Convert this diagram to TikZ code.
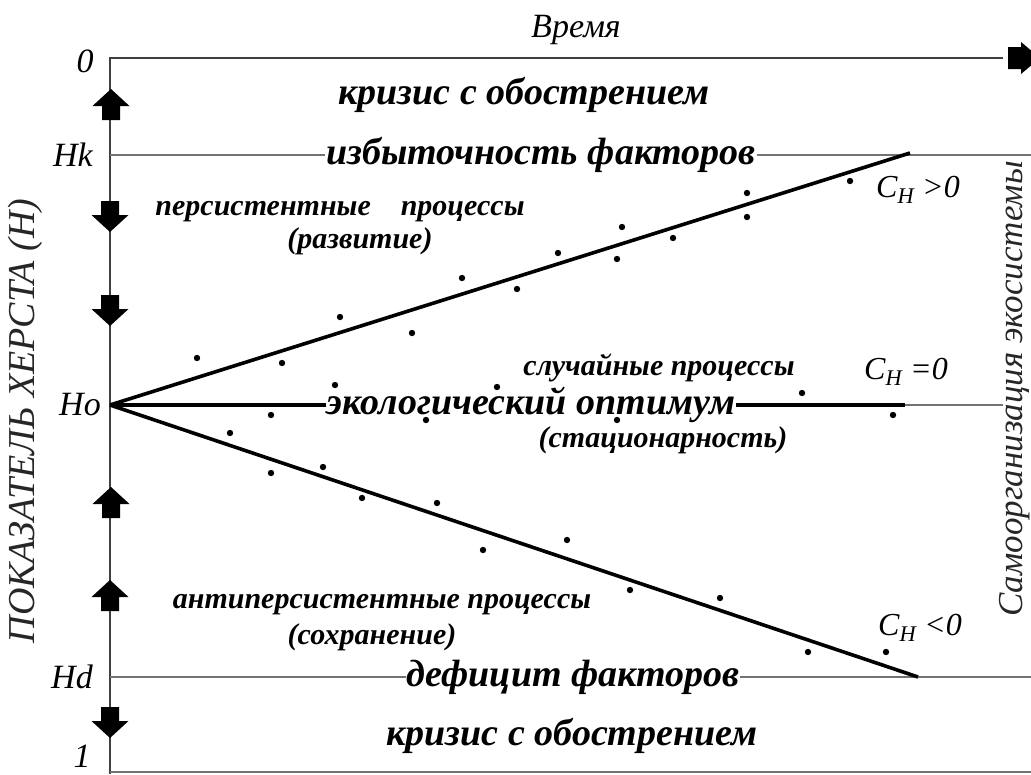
\documentclass[tikz,border=0pt]{standalone}
\usepackage{fontspec}
\setmainfont{Liberation Serif}
\usetikzlibrary{positioning}

\begin{document}
\begin{tikzpicture}[x=1pt, y=-1pt,
      axisline/.style={draw=black!75, line width=1.8pt},
      level/.style={draw=black!55, line width=1.6pt},
      trend/.style={draw=black, line width=3.6pt},
      zone/.style={font=\fontsize{38}{40}\selectfont\bfseries\itshape, fill=white, inner sep=1pt},
      proc/.style={font=\fontsize{30}{32}\selectfont\bfseries\itshape, inner sep=1pt},
      tick/.style={font=\fontsize{34}{36}\selectfont\itshape, inner sep=1pt},
      slope/.style={font=\fontsize{32}{34}\selectfont\itshape, inner sep=1pt},
      side/.style={font=\fontsize{38}{40}\selectfont\itshape, rotate=90, text=black!85},
      blockarrow/.pic={\fill (-9,15) -- (-9,1) -- (-18.5,1) -- (0,-16) -- (18.5,1) -- (9,1) -- (9,15) -- cycle;}
      ]
      \useasboundingbox (0,0) rectangle (1031,774);

      % Axes
      \coordinate (orig) at (110,58);
      \coordinate (tend) at (1003,58);
      \coordinate (bot) at (110,774);
      \draw[axisline] (bot) -- (orig) -- (tend);
      \draw[level] (110,772) -- (1031,772);
      \fill (1008,47) -- (1021,47) -- (1021,42) -- (1040,58) -- (1021,74) -- (1021,69) -- (1008,69) -- cycle;
      \node[tick] (time) at (576,30) {Время};

      % Levels of the Hurst index
      \coordinate (hk) at (110,155);
      \coordinate (ho) at (110,405);
      \coordinate (hd) at (110,677);
      \draw[level] (hk) -- (1031,155);
      \draw[level] (hd) -- (1031,677);
      \draw[level] (ho) -- (1003,405);
      \node[tick] (l0) at (85,61) {0};
      \node[tick] (lk) at (73,155) {Hk};
      \node[tick] (lo) at (80,405) {Ho};
      \node[tick] (ld) at (72,677) {Hd};
      \node[tick] (l1) at (82,756) {1};

      % Trends
      \coordinate (upend) at (910,153);
      \coordinate (midend) at (905,405);
      \coordinate (lowend) at (918,677);
      \draw[trend] (ho) -- (upend);
      \draw[trend] (ho) -- (lowend);
      \draw[trend, line width=4.4pt] (ho) -- (midend);

      % Zone labels
      \node[zone] (crisis1) at (524,95) {кризис с обострением};
      \node[zone] (excess) at (541,155) {избыточность факторов};
      \node[zone] (optimum) at (531,405) {экологический оптимум};
      \node[zone] (deficit) at (573,677) {дефицит факторов};
      \node[zone] (crisis2) at (572,736) {кризис с обострением};

      \node[proc] (pers) at (340,212) {персистентные\quad процессы};
      \node[proc] (pers2) at (360,241) {(развитие)};
      \node[proc] (rand) at (659,368) {случайные процессы};
      \node[proc] (rand2) at (663,440) {(стационарность)};
      \node[proc] (anti) at (382,605) {антиперсистентные процессы};
      \node[proc] (anti2) at (372,637) {(сохранение)};

      \node[slope] (cpos) at (918,190) {C\textsubscript{H} >0};
      \node[slope] (czero) at (906,372) {C\textsubscript{H} =0};
      \node[slope] (cneg) at (920,628) {C\textsubscript{H} <0};

      % Observations
      \foreach \px/\py in {197/358, 282/363, 340/317, 412/333, 462/278, 517/289, 558/253,
          617/259, 622/227, 673/238, 747/193, 747/217, 850/181,
          335/385, 271/415, 426/420, 497/387, 617/420, 802/393, 893/415,
          230/433, 271/473, 323/467, 362/498, 437/503, 483/550, 567/540,
          630/590, 720/598, 808/652, 886/652}
        \fill (\px,\py) circle (3.2pt);

      % Direction of the index
      \pic at (111,105) {blockarrow};
      \pic[rotate=180] at (110,216) {blockarrow};
      \pic[rotate=180] at (110,310) {blockarrow};
      \pic at (111,503) {blockarrow};
      \pic at (110,596) {blockarrow};
      \pic[rotate=180] at (110,722) {blockarrow};

      \node[side] (hurst) at (25,421) {ПОКАЗАТЕЛЬ ХЕРСТА (Н)};
      \node[side, font=\fontsize{35}{37}\selectfont\itshape] (selforg) at (1015,389) {Самоорганизация экосистемы};
\end{tikzpicture}
\end{document}
